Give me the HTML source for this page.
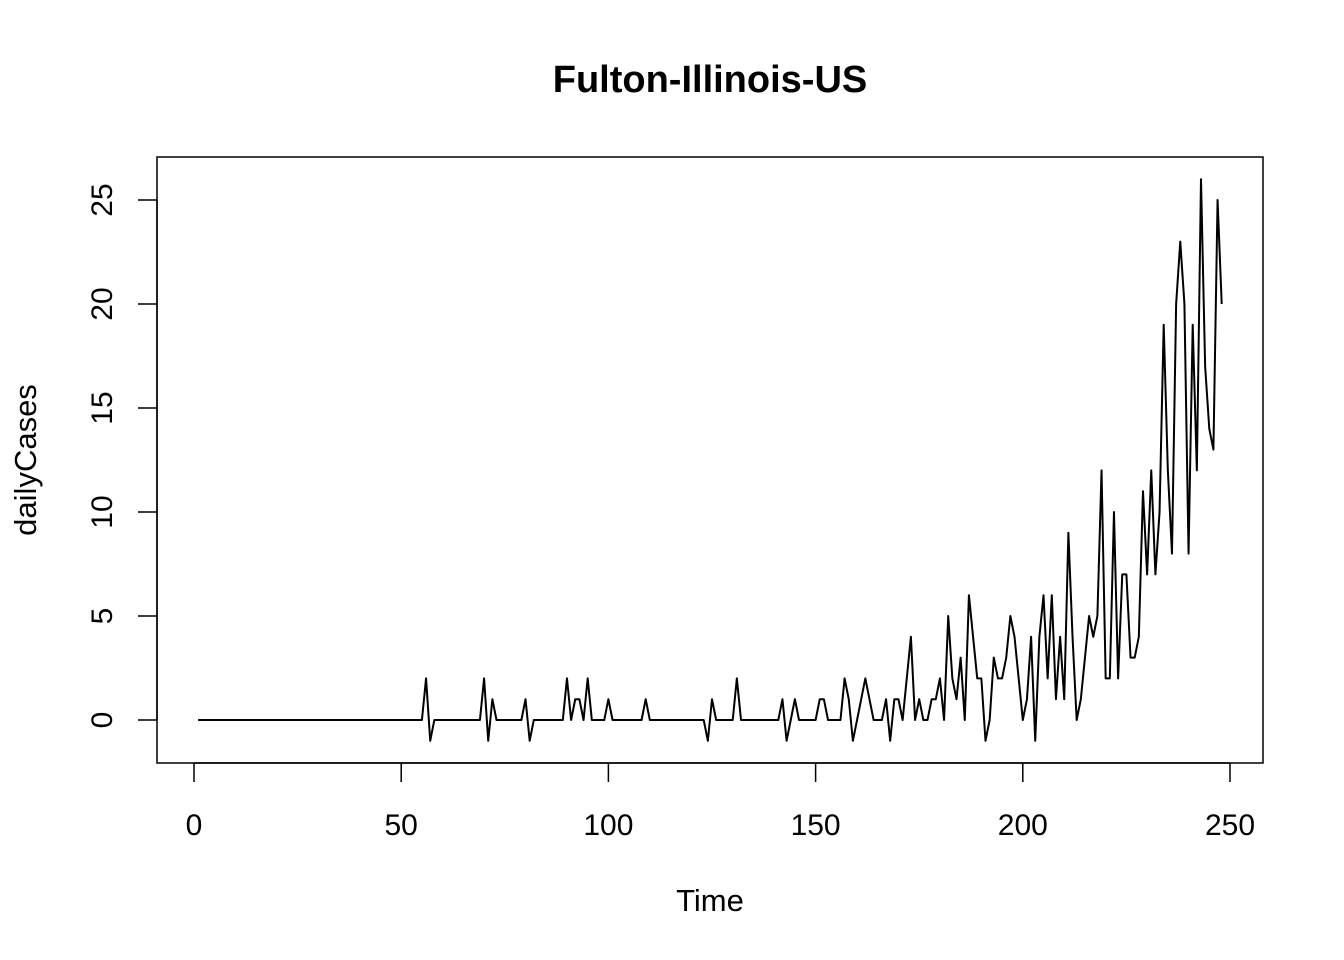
<!DOCTYPE html>
<html><head><meta charset="utf-8"><style>
html,body{margin:0;padding:0;background:#fff;}
svg{display:block;font-family:"Liberation Sans",Arial,sans-serif;}
</style></head><body>
<svg id="chart" width="1344" height="960" viewBox="0 0 1344 960">
<rect x="0" y="0" width="1344" height="960" fill="#fff"/>
<text x="710" y="92" text-anchor="middle" font-size="38" font-weight="bold">Fulton-Illinois-US</text>
<rect x="157" y="157" width="1106" height="606" fill="none" stroke="#000" stroke-width="1.5"/>
<text x="710" y="911" text-anchor="middle" font-size="31">Time</text>
<text transform="translate(36,460) rotate(-90)" text-anchor="middle" font-size="31">dailyCases</text>
<g id="xaxis"></g>
<g id="yaxis"></g>
<g id="series"></g>
</svg>
<script>
const xTicks = [0, 50, 100, 150, 200, 250];
const yTicks = [0, 5, 10, 15, 20, 25];
const dailyCases = [
0,0,0,0,0,0,0,0,0,0, 0,0,0,0,0,0,0,0,0,0, 0,0,0,0,0,0,0,0,0,0,
0,0,0,0,0,0,0,0,0,0, 0,0,0,0,0,0,0,0,0,0, 0,0,0,0,0,
2,-1,0,0,0,0,0,0,0,0,0,0,0,0,
2,-1,1,0,0,0,0,0,0,0,
1,-1,0,0,0,0,0,0,0,0,
2,0,1,1,0,2,0,0,0,0,
1,0,0,0,0,0,0,0,0,
1,0,0,0,0,0,0,0,0,0,0,0,0,0,0,
-1,1,0,0,0,0,0,
2,0,0,0,0,0,0,0,0,0,0,
1,-1,0,1,0,0,0,0,0,
1,1,0,0,0,0,2,1,-1,0,
1,2,1,0,0,0,1,-1,1,1,
0,2,4,0,1,0,0,1,1,2,
0,5,2,1,3,0,6,4,2,2,
-1,0,3,2,2,3,5,4,2,0,
1,4,-1,4,6,2,6,1,4,1,
9,4,0,1,3,5,4,5,12,2,
2,10,2,7,7,3,3,4,11,7,
12,7,10,19,12,8,20,23,20,8,
19,12,26,17,14,13,25,20
];
const NS = "http://www.w3.org/2000/svg";
const xScale = v => 194 + (v - 0) * (1230 - 194) / 250;
const yScale = v => 720 - v * (720 - 200) / 25;
const xa = document.getElementById('xaxis');
const ya = document.getElementById('yaxis');
function mk(tag, attrs, parent){ const e=document.createElementNS(NS,tag); for(const k in attrs) e.setAttribute(k,attrs[k]); parent.appendChild(e); return e; }
mk('line',{x1:xScale(xTicks[0]),x2:xScale(xTicks[xTicks.length-1]),y1:763,y2:763,stroke:'#000','stroke-width':1.5},xa);
xTicks.forEach(t=>{
  const l=mk('line',{x1:xScale(t),x2:xScale(t),y1:763,y2:782,stroke:'#000','stroke-width':1.5},xa);
  
  
  const tx=mk('text',{x:xScale(t),y:835,'text-anchor':'middle','font-size':30},xa);
  tx.textContent=t;
  
  
});
mk('line',{x1:157,x2:157,y1:yScale(yTicks[0]),y2:yScale(yTicks[yTicks.length-1]),stroke:'#000','stroke-width':1.5},ya);
yTicks.forEach(t=>{
  const l=mk('line',{x1:138,x2:157,y1:yScale(t),y2:yScale(t),stroke:'#000','stroke-width':1.5},ya);
  
  
  const tx=mk('text',{transform:`translate(112,${yScale(t)}) rotate(-90)`,'text-anchor':'middle','font-size':30},ya);
  tx.textContent=t;
  
  
});
const pts = dailyCases.map((v,i)=>xScale(i+1).toFixed(2)+','+yScale(v).toFixed(2)).join(' ');
const pl = mk('polyline',{points:pts,fill:'none',stroke:'#000','stroke-width':2,'stroke-linejoin':'round'},document.getElementById('series'));


</script>
</body></html>
